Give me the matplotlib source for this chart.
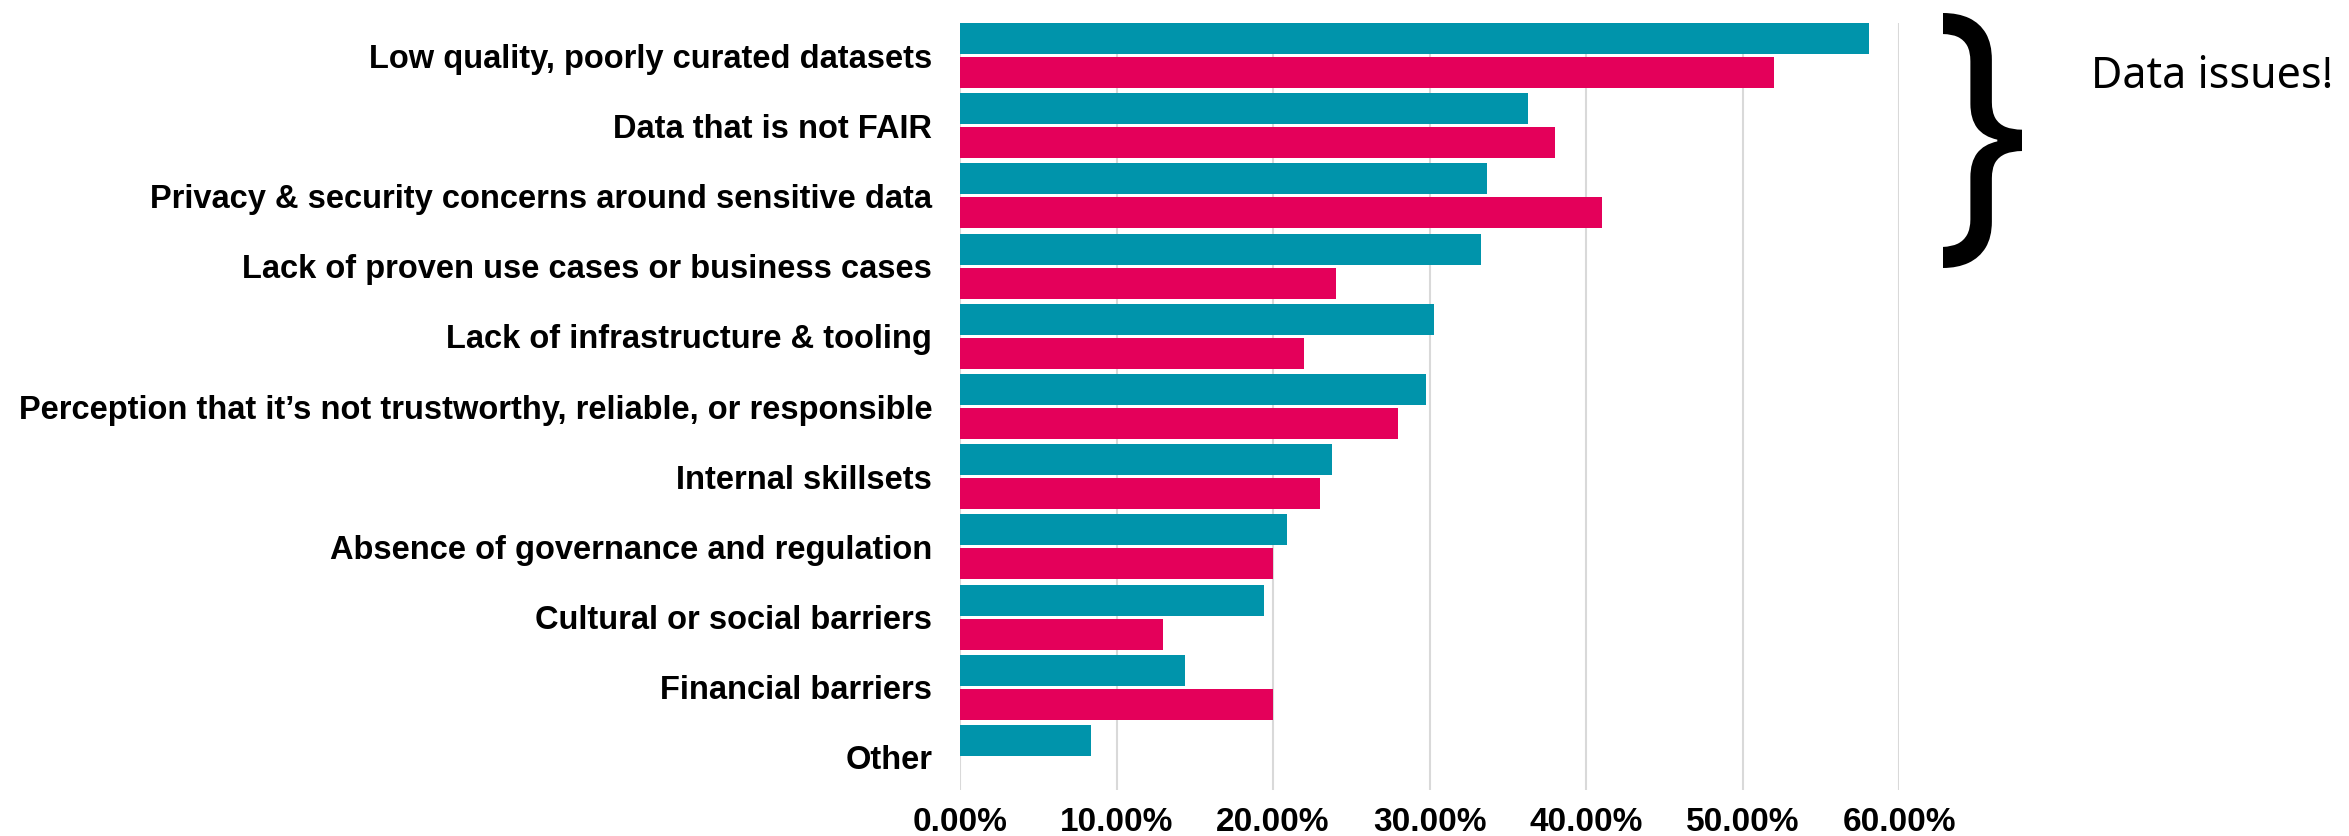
import matplotlib
matplotlib.use('Agg')
import matplotlib.pyplot as plt
import numpy as np
from matplotlib.textpath import TextPath
from matplotlib.patches import PathPatch
from matplotlib.font_manager import FontProperties
from matplotlib.transforms import Affine2D
from matplotlib.ticker import PercentFormatter

# データ
categories = [
    'Low quality, poorly curated datasets',
    'Data that is not FAIR',
    'Privacy & security concerns around sensitive data',
    'Lack of proven use cases or business cases',
    'Lack of infrastructure & tooling',
    'Perception that it\u2019s not trustworthy, reliable, or responsible',
    'Internal skillsets',
    'Absence of governance and regulation',
    'Cultural or social barriers',
    'Financial barriers',
    'Other',
]
teal_values = [58.1, 36.3, 33.7, 33.3, 30.3, 29.8, 23.8, 20.9, 19.4, 14.4, 8.4]
pink_values = [52.0, 38.0, 41.0, 24.0, 22.0, 28.0, 23.0, 20.0, 13.0, 20.0, 0.0]
xticks = [0, 10, 20, 30, 40, 50, 60]

teal = '#0094AB'
pink = '#E4005A'

fig = plt.figure(figsize=(23.49, 8.36), dpi=100)
ax = fig.add_axes([960 / 2349, 1 - 790 / 836, (1899 - 960) / 2349, 767 / 836])

y = np.arange(len(categories))
off = 0.242
h = 0.44
ax.barh(y - off, teal_values, height=h, color=teal, zorder=3)
ax.barh(y + off, pink_values, height=h, color=pink, zorder=3)

ax.set_ylim(len(categories) - 1 + 0.463, -0.463)
ax.set_xlim(0, 60)

ax.set_yticks(y)
ax.set_yticklabels(categories, fontsize=23.5, fontweight='bold', family='Liberation Sans')
ax.set_xticks(xticks)
ax.xaxis.set_major_formatter(PercentFormatter(decimals=2))
for lab in ax.get_xticklabels():
    lab.set_fontsize(24)
    lab.set_fontweight('bold')
    lab.set_family('Liberation Sans')

ax.tick_params(axis='y', length=0, pad=20)
ax.tick_params(axis='x', length=0, pad=12)
ax.grid(axis='x', color='#D9D9D9', linewidth=1.5, zorder=0)
for s in ax.spines.values():
    s.set_visible(False)

# 波括弧 (TextPathを伸ばす)
tp = TextPath((0, 0), '}', size=100, prop=FontProperties(family='Noto Sans'))
bb = tp.get_extents()
x0, x1 = 1943 / 2349, 2022 / 2349
y0, y1 = 1 - 268 / 836, 1 - 13 / 836
tr = (Affine2D().translate(-bb.x0, -bb.y0)
      .scale((x1 - x0) / bb.width, (y1 - y0) / bb.height)
      .translate(x0, y0))
brace = PathPatch(tr.transform_path(tp), color='black', lw=0, transform=fig.transFigure)
fig.add_artist(brace)

fig.text(2091 / 2349, 1 - 77 / 836, 'Data issues!', fontsize=31, family='Noto Sans',
         ha='left', va='center')

fig.savefig('out.png', dpi=100)
